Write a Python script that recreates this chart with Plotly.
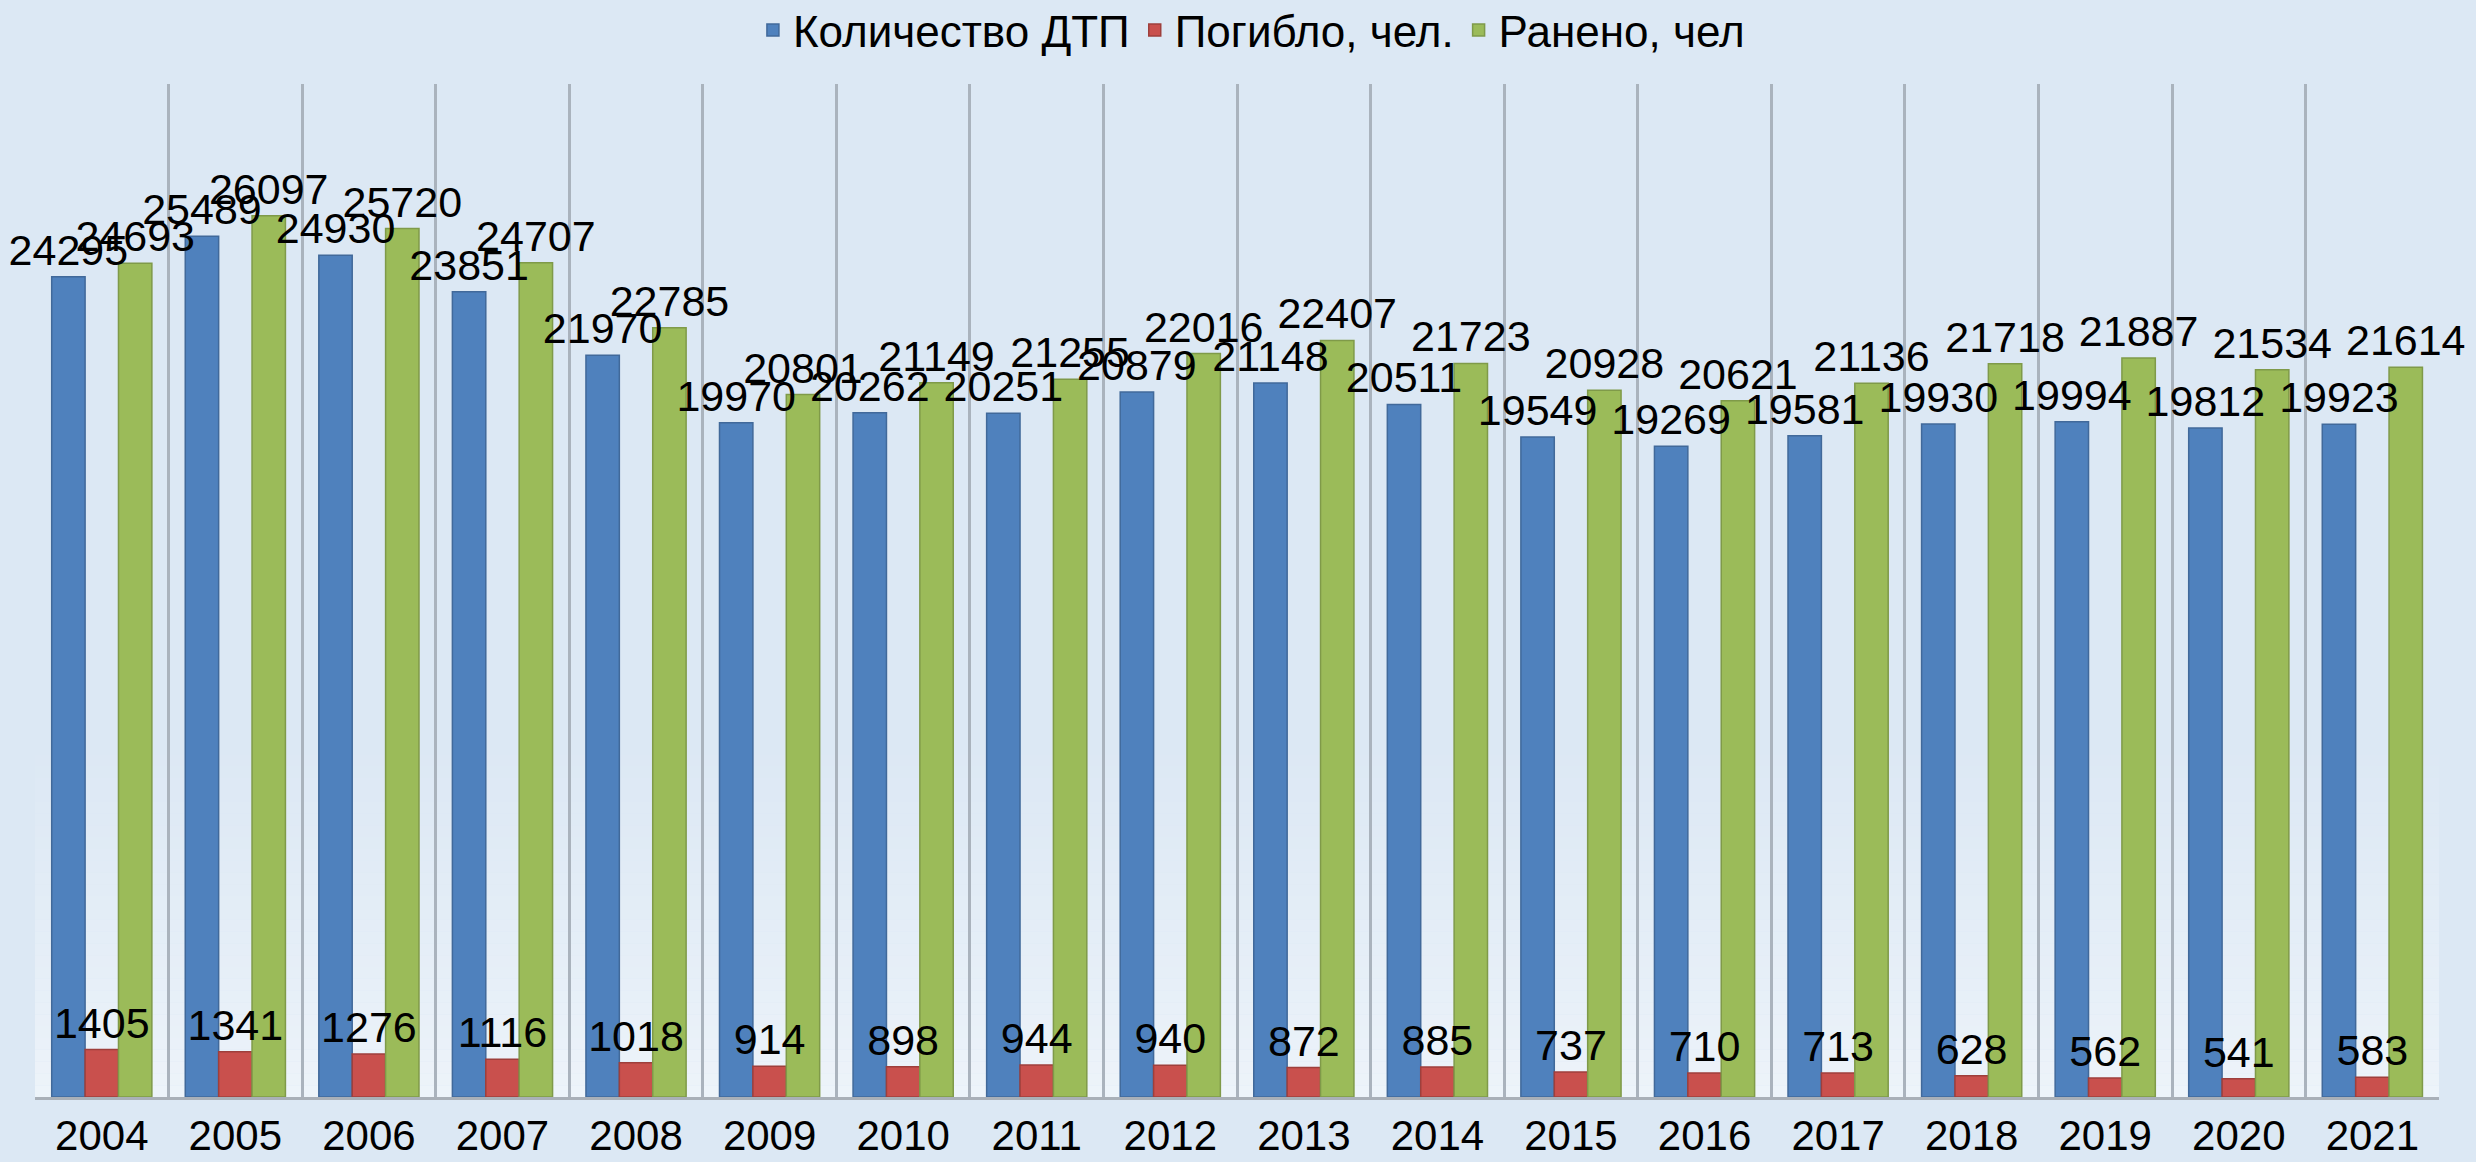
import plotly.graph_objects as go

years = ["2004", "2005", "2006", "2007", "2008", "2009", "2010", "2011", "2012",
         "2013", "2014", "2015", "2016", "2017", "2018", "2019", "2020", "2021"]
accidents = [24295, 25489, 24930, 23851, 21970, 19970, 20262, 20251, 20879,
             21148, 20511, 19549, 19269, 19581, 19930, 19994, 19812, 19923]
killed = [1405, 1341, 1276, 1116, 1018, 914, 898, 944, 940,
          872, 885, 737, 710, 713, 628, 562, 541, 583]
injured = [24693, 26097, 25720, 24707, 22785, 20801, 21149, 21255, 22016,
           22407, 21723, 20928, 20621, 21136, 21718, 21887, 21534, 21614]

names = ["Количество ДТП", "Погибло, чел.", "Ранено, чел"]
colors = ["#4f81bd", "#c9504d", "#9bbb59"]
edges = ["#41699a", "#9e3f3c", "#7f9a49"]

FONT = "Liberation Sans"
BG = "#dce8f4"
Y_MAX = 30000

fig = go.Figure()
series = [accidents, killed, injured]
# coloured bars
for name, vals, col, ed in zip(names, series, colors, edges):
    fig.add_trace(go.Bar(
        x=years, y=vals, name=name,
        marker=dict(color=col, line=dict(color=ed, width=1.5)),
        xaxis="x", yaxis="y",
    ))
# transparent copies on an overlaying axis pair, carrying the data labels on top
for name, vals in zip(names, series):
    fig.add_trace(go.Bar(
        x=years, y=vals, name=name, showlegend=False,
        marker=dict(color="rgba(0,0,0,0)", line=dict(width=0)),
        text=[str(v) for v in vals],
        textposition="outside",
        constraintext="none",
        cliponaxis=False,
        textfont=dict(family=FONT, size=43, color="#000000"),
        xaxis="x2", yaxis="y2", hoverinfo="skip",
    ))

# soft lightening of the plot background towards the bottom (Excel gradient fill)
n_bands = 30
top_c = (0xdc, 0xe8, 0xf4)
bot_c = (0xee, 0xf4, 0xfa)
shapes = []
for i in range(n_bands):
    t = ((i + 0.5) / n_bands) ** 0.8
    c = tuple(round(bot_c[k] + (top_c[k] - bot_c[k]) * t) for k in range(3))
    shapes.append(dict(
        type="rect", xref="x domain", yref="y domain",
        x0=0, x1=1, y0=0.35 * i / n_bands, y1=0.35 * (i + 1) / n_bands,
        fillcolor="rgb(%d,%d,%d)" % c, line=dict(width=0), layer="below",
    ))

xcommon = dict(type="category", range=[-0.5, 17.499])
fig.update_layout(
    width=2476, height=1162,
    paper_bgcolor=BG, plot_bgcolor=BG,
    barmode="group", bargap=0.25, bargroupgap=0,
    margin=dict(l=35, r=37, t=84, b=65, autoexpand=False),
    font=dict(family=FONT, size=41, color="#000000"),
    showlegend=True,
    shapes=shapes,
    legend=dict(
        orientation="h", x=0.506, xanchor="center", y=1.053, yanchor="middle",
        font=dict(family=FONT, size=44, color="#000000"),
        itemwidth=30, bgcolor="rgba(0,0,0,0)",
        traceorder="normal",
    ),
    xaxis=dict(
        **xcommon, tickson="boundaries",
        showgrid=True, gridcolor="#aab3bd", gridwidth=3,
        showline=True, linecolor="#a9b0b8", linewidth=3,
        ticks="outside", ticklen=18, tickcolor="rgba(0,0,0,0)",
        tickfont=dict(family=FONT, size=42, color="#000000"),
    ),
    yaxis=dict(range=[0, Y_MAX], showgrid=False, zeroline=False,
               showticklabels=False, showline=False),
    xaxis2=dict(**xcommon, overlaying="x", visible=False),
    yaxis2=dict(range=[0, Y_MAX], overlaying="y", visible=False),
)

fig.write_html("out.html", config={"displayModeBar": False},
               post_script="document.body.style.margin='0';")
